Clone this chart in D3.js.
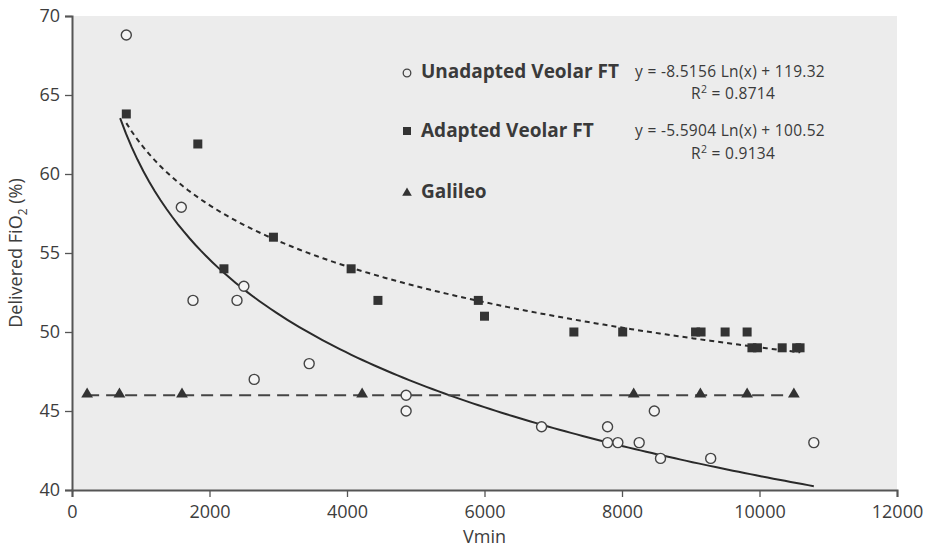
<!DOCTYPE html>
<html>
<head>
<meta charset="utf-8">
<script src="https://cdn.jsdelivr.net/npm/d3@7"></script>
<style>
  body { margin: 0; background: #fff; }
  svg { display: block; font-family: "Open Sans", sans-serif; }
</style>
</head>
<body>
<svg id="chart" width="926" height="550"></svg>
<script>
// values
var unadaptedX = [790, 1590, 1760, 2400, 2500, 2650, 3450, 4860, 4860, 6830, 7790, 7790, 7940, 8250, 8470, 8560, 9290, 10790];
var unadaptedY = [68.8, 57.9, 52, 52, 52.9, 47, 48, 46, 45, 44, 44, 43, 43, 43, 45, 42, 42, 43];

var adaptedX = [790, 1830, 2210, 2930, 4060, 4450, 5910, 6000, 7300, 8010, 9070, 9150, 9500, 9820, 9890, 9970, 10330, 10540, 10590];
var adaptedY = [63.8, 61.9, 54, 56, 54, 52, 52, 51, 50, 50, 50, 50, 50, 50, 49, 49, 49, 49, 49];

var galileoX = [220, 690, 1600, 4220, 8170, 9140, 9820, 10500];
var galileoY = [46, 46, 46, 46, 46, 46, 46, 46];

// trendlines as printed on the chart: y = a Ln(x) + b
var unadaptedFit = [-8.5156, 119.32];
var adaptedFit = [-5.5904, 100.52];
var unadaptedRange = [700, 10790];
var adaptedRange = [790, 10590];

var xTicks = [0, 2000, 4000, 6000, 8000, 10000, 12000];
var yTicks = [40, 45, 50, 55, 60, 65, 70];

var margin = {top: 16, right: 29, bottom: 60, left: 72};
var width = 926, height = 550;

var svg = d3.select('#chart');

var x = d3.scaleLinear().domain([0, 12000]).range([margin.left, width - margin.right]);
var y = d3.scaleLinear().domain([40, 70]).range([height - margin.bottom, margin.top]);

// plot background
svg.append('rect')
    .attr('x', x(0)).attr('y', y(70))
    .attr('width', x(12000) - x(0)).attr('height', y(40) - y(70))
    .attr('fill', '#ececec');

var xAxis = svg.append('g')
    .attr('transform', 'translate(0,' + y(40) + ')')
    .call(d3.axisBottom(x).tickValues(xTicks).tickFormat(d3.format('d')).tickSize(7).tickPadding(8));
var yAxis = svg.append('g')
    .attr('transform', 'translate(' + x(0) + ',0)')
    .call(d3.axisLeft(y).tickValues(yTicks).tickSize(7).tickPadding(5));

[xAxis, yAxis].forEach(function(ax){
    ax.select('.domain').attr('stroke', '#555').attr('stroke-width', 2);
    ax.selectAll('.tick line').attr('stroke', '#555').attr('stroke-width', 1.3);
    ax.selectAll('.tick text').attr('fill', '#3d3d3d').style('font-size', '18px').style('font-family', '"Open Sans", sans-serif');
});

svg.append('text')
    .attr('x', x(6000)).attr('y', 543)
    .attr('text-anchor', 'middle')
    .attr('fill', '#3d3d3d').style('font-size', '18px')
    .text('Vmin');

var yl = svg.append('text')
    .attr('transform', 'translate(22,' + y(55) + ') rotate(-90)')
    .attr('text-anchor', 'middle')
    .attr('fill', '#3d3d3d').style('font-size', '18px');
yl.append('tspan').text('Delivered FiO');
yl.append('tspan').attr('dy', 5).style('font-size', '12px').text('2');
yl.append('tspan').attr('dy', -5).text(' (%)');

// fit curves
function fitPoints(coef, range){
    var pts = [];
    var n = 120;
    for (var i = 0; i <= n; i++){
        var v = range[0] + (range[1] - range[0]) * i / n;
        pts.push([v, coef[0] * Math.log(v) + coef[1]]);
    }
    return pts;
}
var line = d3.line().x(function(d){ return x(d[0]); }).y(function(d){ return y(d[1]); });

svg.append('path')
    .attr('d', line(fitPoints(unadaptedFit, unadaptedRange)))
    .attr('fill', 'none').attr('stroke', '#2a2a2a').attr('stroke-width', 2);
svg.append('path')
    .attr('d', line(fitPoints(adaptedFit, adaptedRange)))
    .attr('fill', 'none').attr('stroke', '#2a2a2a').attr('stroke-width', 2)
    .attr('stroke-dasharray', '5,4');
svg.append('path')
    .attr('d', line(d3.zip(galileoX, galileoY)))
    .attr('fill', 'none').attr('stroke', '#444').attr('stroke-width', 2)
    .attr('stroke-dasharray', '12,7');

// markers
var tri = d3.symbol().type(d3.symbolTriangle).size(60);

svg.append('g').selectAll('path')
    .data(d3.zip(galileoX, galileoY))
    .join('path')
    .attr('d', tri)
    .attr('transform', function(d){ return 'translate(' + x(d[0]) + ',' + (y(d[1]) - 1) + ')'; })
    .attr('fill', '#333');

svg.append('g').selectAll('rect')
    .data(d3.zip(adaptedX, adaptedY))
    .join('rect')
    .attr('x', function(d){ return x(d[0]) - 4.5; })
    .attr('y', function(d){ return y(d[1]) - 4.5; })
    .attr('width', 9).attr('height', 9)
    .attr('fill', '#333');

svg.append('g').selectAll('circle')
    .data(d3.zip(unadaptedX, unadaptedY))
    .join('circle')
    .attr('cx', function(d){ return x(d[0]); })
    .attr('cy', function(d){ return y(d[1]); })
    .attr('r', 5)
    .attr('fill', '#f4f4f4').attr('stroke', '#444').attr('stroke-width', 1.4);

// legend
var legend = svg.append('g').attr('fill', '#3a3a3a');
legend.append('circle').attr('cx', 407).attr('cy', 73).attr('r', 3.8)
    .attr('fill', 'none').attr('stroke', '#444').attr('stroke-width', 1.3);
legend.append('rect').attr('x', 403).attr('y', 127).attr('width', 8).attr('height', 8).attr('fill', '#333');
legend.append('path').attr('d', d3.symbol().type(d3.symbolTriangle).size(40))
    .attr('transform', 'translate(407,193)').attr('fill', '#333');

var names = [['Unadapted Veolar FT', 78], ['Adapted Veolar FT', 137], ['Galileo', 198]];
names.forEach(function(n){
    legend.append('text').attr('x', 421).attr('y', n[1])
        .style('font-size', '19px').style('font-weight', 'bold').text(n[0]);
});

var eqs = [['y = -8.5156 Ln(x) + 119.32', 76.5, '0.8714', 99], ['y = -5.5904 Ln(x) + 100.52', 136, '0.9134', 158.5]];
eqs.forEach(function(e){
    legend.append('text').attr('x', 635).attr('y', e[1])
        .style('font-size', '15.5px').style('letter-spacing', '0.3px').text(e[0]);
    var r = legend.append('text').attr('x', 691).attr('y', e[3])
        .style('font-size', '15.5px').style('letter-spacing', '0.3px');
    r.append('tspan').text('R');
    r.append('tspan').attr('dy', -6).style('font-size', '10.5px').text('2');
    r.append('tspan').attr('dy', 6).text(' = ' + e[2]);
});
</script>
</body>
</html>
